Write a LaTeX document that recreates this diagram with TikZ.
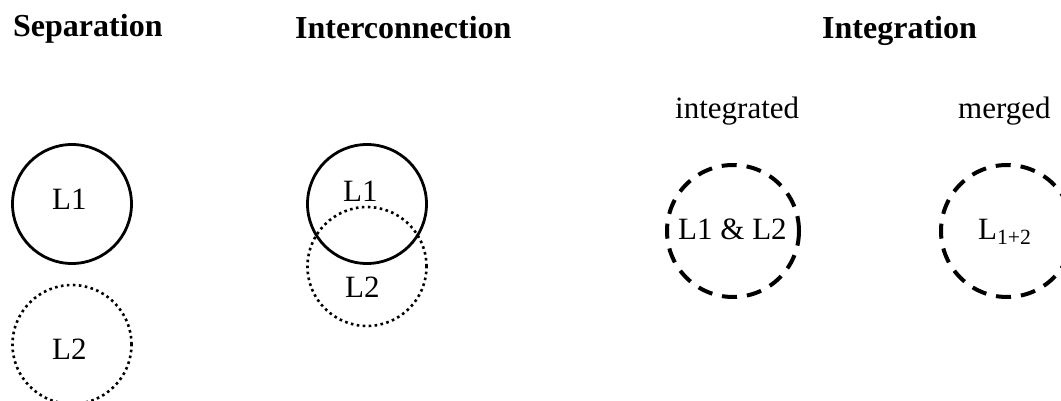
\documentclass[tikz,border=0pt]{standalone}
\usepackage{fontspec}
\setmainfont{Liberation Serif}
\begin{document}
\begin{tikzpicture}[x=1pt,y=-1pt,
  txt/.style={inner sep=0pt,anchor=base west,font=\fontsize{31}{31}\selectfont},
  ttl/.style={inner sep=0pt,anchor=base west,font=\fontsize{32}{32}\selectfont\bfseries},
  ring/.style={circle,inner sep=0pt,minimum size=#1},
  solidring/.style={ring=119pt,draw,line width=2.8pt},
  dotring/.style={ring=119pt,draw,line width=2.6pt,dash pattern=on 2.6pt off 3.4pt},
  dashring/.style={ring=132pt,draw,line width=4pt,dash pattern=on 15pt off 10pt}]
\useasboundingbox (0,0) rectangle (1061,401);
% titles
\node[ttl] (tsep) at (13,37) {Separation};
\node[ttl] (tint) at (295,39) {Interconnection};
\node[ttl] (tintg) at (822,39) {Integration};
\node[txt] (tintd) at (675,119) {integrated};
\node[txt] (tmrg) at (958,119) {merged};
% separation
\node[solidring] (s1) at (72,204) {};
\node[dotring] (s2) at (72,344.5) {};
\node[txt] (s1t) at (52,209) {L1};
\node[txt] (s2t) at (52,359) {L2};
% interconnection
\node[solidring] (i1) at (367,204) {};
\node[dotring] (i2) at (367,266.5) {};
\node[txt] (i1t) at (343,201) {L1};
\node[txt] (i2t) at (345,297) {L2};
% integration
\node[dashring] (g1) at (733,231) {};
\node[dashring] (g2) at (1007,231) {};
\node[txt] (g1t) at (678,239) {L1 \& L2};
\node[txt] (g2t) at (978,239) {L\textsubscript{1+2}};
\end{tikzpicture}
\end{document}
